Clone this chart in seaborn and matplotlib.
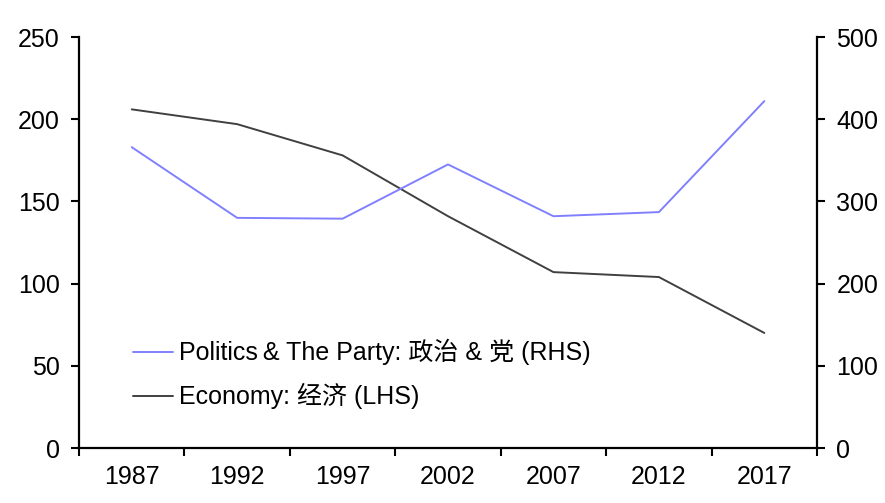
import pandas as pd
import numpy as np
import matplotlib.pyplot as plt
import seaborn as sns

# Daten
years = ['1987', '1992', '1997', '2002', '2007', '2012', '2017']
economy = [206, 197, 178, 141, 107, 104, 70]        # LHS
politics = [366, 280, 279, 345, 282, 287, 422]      # RHS

df = pd.DataFrame({'Year': years, 'Economy': economy, 'Politics': politics})

sns.set_style('ticks')
plt.rcParams['font.family'] = ['Liberation Sans', 'Noto Sans CJK SC', 'DejaVu Sans']
plt.rcParams['font.size'] = 18
plt.rcParams['text.color'] = 'black'
plt.rcParams['xtick.color'] = 'black'
plt.rcParams['ytick.color'] = 'black'

fig = plt.figure(figsize=(8.85, 5.03), dpi=100)
ax = fig.add_axes([0.0893, 0.1093, 0.8339, 0.8171])
ax2 = ax.twinx()

sns.lineplot(data=df, x='Year', y='Economy', ax=ax, color='#404040', linewidth=1.4,
             label='Economy: 经济 (LHS)', legend=False)
sns.lineplot(data=df, x='Year', y='Politics', ax=ax2, color='#8080FF', linewidth=1.4,
             label='Politics\u2009& The Party: 政治 & 党 (RHS)', legend=False)

ax.set_xlim(-0.5, len(years) - 0.5)
ax.set_ylim(0, 250)
ax2.set_ylim(0, 500)
ax.set_yticks(np.arange(0, 251, 50))
ax2.set_yticks(np.arange(0, 501, 100))
ax.set_xlabel('')
ax.set_ylabel('')
ax2.set_ylabel('')

# Kategorienachse: Ticks zwischen den Jahren
ax.set_xticks(range(len(years)))
ax.set_xticklabels(years)
ax.set_xticks(np.arange(-0.5, len(years), 1), minor=True)
ax.tick_params(axis='x', which='major', length=0, pad=12, labelsize=18)
ax.tick_params(axis='x', which='minor', length=6, width=1.5, direction='out')
ax.tick_params(axis='y', length=6, width=1.5, pad=8, labelsize=18)
ax2.tick_params(axis='y', length=6, width=1.5, pad=8, labelsize=18)

for a in (ax, ax2):
    a.spines['top'].set_visible(False)
    for s in ('left', 'right', 'bottom'):
        a.spines[s].set_linewidth(1.6)
        a.spines[s].set_color('black')
ax.spines['right'].set_visible(False)
ax2.spines['left'].set_visible(False)
ax2.spines['bottom'].set_visible(False)

# Legende
h1, l1 = ax2.get_legend_handles_labels()
h2, l2 = ax.get_legend_handles_labels()
ax.legend(h1 + h2, l1 + l2, loc='lower left', bbox_to_anchor=(0.043, 0.039),
          frameon=False, fontsize=18, handlelength=1.6, handletextpad=0.24,
          labelspacing=0.72)

plt.savefig('out.png', dpi=100)
